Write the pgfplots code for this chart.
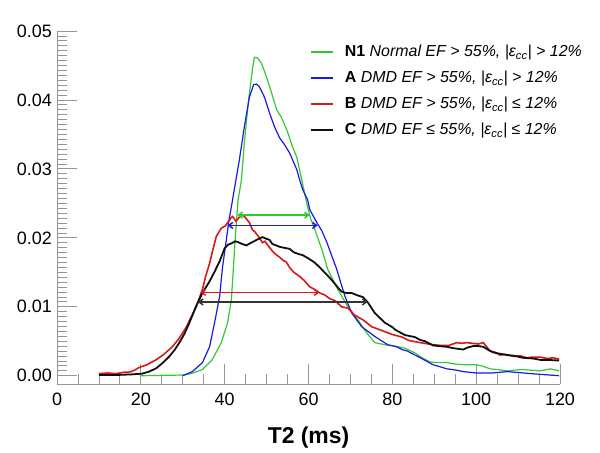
\documentclass[border=0pt]{standalone}
\usepackage{fontspec}
\setmainfont{Liberation Sans}
\usepackage{pgfplots}
\pgfplotsset{compat=1.18}
\usetikzlibrary{arrows.meta}

\definecolor{cN}{RGB}{50,200,50}
\definecolor{cA}{RGB}{25,25,225}
\definecolor{cB}{RGB}{215,25,25}
\definecolor{cC}{RGB}{15,15,15}
\definecolor{axgray}{RGB}{150,150,150}

\tikzset{fwhm/.style={line width=1.5bp, {Straight Barb[length=4bp,width=6bp]}-{Straight Barb[length=4bp,width=6bp]}}}

\begin{document}
\begin{tikzpicture}
\begin{axis}[
    scale only axis,
    width=503bp, height=353bp,
    xmin=0, xmax=120,
    ymin=-0.0012, ymax=0.05,
    axis lines*=left,
    axis line style={draw=axgray, line width=0.9bp},
    every tick/.style={draw=axgray, line width=0.8bp},
    tick align=inside,
    major tick length=20bp,
    minor tick length=10bp,
    xtick={0,20,...,120},
    minor x tick num=3,
    ytick={0,0.01,0.02,0.03,0.04,0.05},
    minor y tick num=13,
    /pgf/number format/assume math mode=true,
    yticklabel style={/pgf/number format/fixed, /pgf/number format/fixed zerofill, /pgf/number format/precision=2, xshift=-5bp},
    scaled y ticks=false,
    every tick label/.append style={font=\fontsize{18}{21}\selectfont, inner sep=0pt},
    xticklabel style={yshift=-9bp},
    xlabel={\textbf{T2 (ms)}},
    xlabel style={font=\fontsize{23}{27}\selectfont, at={(axis description cs:0.5,0)}, anchor=base, yshift=-59bp, inner sep=0pt},
    legend cell align=left,
    legend image code/.code={\draw[#1] (0bp,0bp) -- (22bp,0bp);},
    legend style={draw=none, fill=none, inner sep=0pt, at={(rel axis cs:0.503,0.965)}, anchor=north west,
        font=\fontsize{16}{19}\selectfont, row sep=10bp, column sep=9bp, nodes={inner sep=1.5bp}},
]

\addlegendimage{draw=cN, line width=2bp}
\addlegendentry{\textbf{N1} \textit{Normal EF > 55\%, |ε\textsubscript{cc}| > 12\%}}
\addlegendimage{draw=cA, line width=2bp}
\addlegendentry{\textbf{A} \textit{DMD EF > 55\%, |ε\textsubscript{cc}| > 12\%}}
\addlegendimage{draw=cB, line width=2bp}
\addlegendentry{\textbf{B} \textit{DMD EF > 55\%, |ε\textsubscript{cc}| ≤ 12\%}}
\addlegendimage{draw=cC, line width=2.2bp}
\addlegendentry{\textbf{C} \textit{DMD EF ≤ 55\%, |ε\textsubscript{cc}| ≤ 12\%}}

% N1 normal
\addplot[draw=cN, line width=1.2bp, forget plot] coordinates {
(20,0)(30,0.0001)(32,0.0003)(34.7,0.0009)(37,0.0023)(39.2,0.0048)(40.7,0.0077)(41.6,0.011)
(42.1,0.0158)(42.6,0.0207)(43.2,0.0255)(44,0.0284)(44.7,0.0338)(45.7,0.040)(46.7,0.0448)
(47.1,0.0462)(47.8,0.0461)(48.8,0.0453)(50,0.0433)(51.2,0.041)(52.4,0.0386)(53.6,0.0374)
(54.8,0.0357)(56.2,0.0332)(57.2,0.0317)(58.4,0.0284)(59.6,0.025)(60.5,0.0228)(61.5,0.0212)
(63.2,0.0183)(64.6,0.0154)(67,0.0125)(69.4,0.0100)(71.8,0.0081)(73.9,0.0062)(75.8,0.0048)
(78.2,0.0045)(80.6,0.0043)(83,0.0040)(85.4,0.0033)(87.1,0.0026)(89,0.0020)(91,0.0019)
(93,0.0019)(95,0.0017)(97,0.0016)(100,0.0016)(101.5,0.0014)(103.3,0.0010)(105,0.0009)
(107.4,0.0007)(109,0.0008)(111.2,0.0009)(113,0.0008)(115.3,0.0007)(117.7,0.0010)(119.8,0.0007)
};

% A
\addplot[draw=cA, line width=1.2bp, forget plot] coordinates {
(30,0)(32.3,0.0006)(34.7,0.0019)(36.4,0.0042)(37.6,0.0077)(38.8,0.0115)(39.5,0.0158)
(40.4,0.0197)(41,0.0225)(41.6,0.0245)(42.3,0.027)(43.5,0.0313)(44.7,0.0361)(45.9,0.0404)
(46.9,0.0422)(47.6,0.0423)(48.3,0.0419)(49.5,0.0404)(50.7,0.0381)(51.9,0.0361)(53.1,0.0345)
(54.3,0.0335)(55.5,0.0323)(57.2,0.0299)(57.9,0.0284)(58.6,0.0270)(59.8,0.0255)(60.3,0.0241)
(62,0.0222)(63.2,0.0210)(64.4,0.0193)(65.6,0.0173)(66.7,0.0155)(67.5,0.0139)(68.7,0.0115)
(70.3,0.0091)(72.7,0.0071)(75.8,0.0057)(78.9,0.0045)(81,0.0042)(82.3,0.0038)(83.5,0.0036)
(85.4,0.0030)(87.3,0.0024)(89.7,0.0016)(91.4,0.0013)(93,0.0010)(95.4,0.0008)(96.9,0.0006)
(100,0.0004)(104,0.0004)(107.4,0.0006)(111.2,0.0004)(115.3,0.0002)(119.8,0)
};

% B
\addplot[draw=cB, line width=1.6bp, forget plot] coordinates {
(10,0.0003)(12,0.0004)(14,0.0003)(16,0.0005)(17.2,0.0005)(18.5,0.0008)(19.6,0.0012)
(21.5,0.0016)(23.6,0.0023)(25.5,0.0031)(27.5,0.0042)(29,0.0053)(30.8,0.007)(32,0.0085)
(33.2,0.010)(34.7,0.0125)(35.5,0.0145)(36.4,0.0163)(37.2,0.0183)(38,0.0202)(39.2,0.0214)
(40.1,0.0217)(40.7,0.0222)(41.5,0.0229)(41.9,0.0231)(42.7,0.0224)(43.5,0.0230)(44.3,0.0233)
(45,0.0229)(45.9,0.0222)(46.6,0.0212)(47.3,0.0208)(48.3,0.0200)(49,0.0193)(49.6,0.0195)
(50.7,0.0186)(51.5,0.0180)(52.2,0.0176)(53.1,0.0172)(54,0.0167)(54.7,0.0165)(55.5,0.0157)
(56.5,0.0150)(57.9,0.0144)(59,0.0138)(60.3,0.0129)(61.5,0.0125)(62.7,0.0120)(63.9,0.0117)
(65,0.0112)(66.3,0.0109)(67.9,0.0100)(69.4,0.0098)(71,0.0088)(73,0.0081)(75.1,0.0071)
(77.3,0.0066)(79.9,0.0060)(82.3,0.0056)(84,0.0051)(86.6,0.0048)(89.7,0.0045)(91.5,0.0044)
(93.5,0.0044)(95.4,0.0048)(96.5,0.0047)(97.8,0.0048)(99,0.0047)(100.5,0.0046)(101.7,0.0048)
(103.3,0.0036)(104.5,0.0034)(105.7,0.0030)(107,0.0031)(108.9,0.0028)(110.5,0.0029)
(112,0.0026)(113.5,0.0027)(115.3,0.0027)(117,0.0025)(118.4,0.0026)(119.8,0.0024)
};

% C
\addplot[draw=cC, line width=1.8bp, forget plot] coordinates {
(10,0.0001)(14,0.0001)(18,0.0002)(20.3,0.0003)(22,0.0006)(23.7,0.0011)(25.3,0.0019)
(26.8,0.0028)(28,0.0037)(29.2,0.0048)(30.5,0.0062)(31.6,0.0077)(33.2,0.0101)(34.7,0.0120)
(35.5,0.0128)(36.4,0.0137)(37.6,0.0151)(38.8,0.0166)(40,0.0185)(40.8,0.0190)(41.6,0.0192)
(42.5,0.0195)(43.1,0.0194)(44.2,0.0191)(45.2,0.0189)(46,0.0192)(46.7,0.0194)(47.6,0.0197)
(48.3,0.0199)(49,0.0201)(49.8,0.0199)(50.7,0.0197)(51.4,0.0191)(52.3,0.0189)(53.1,0.0187)
(53.8,0.0186)(55.5,0.0184)(56.5,0.0179)(57.9,0.0176)(58.6,0.0175)(60,0.0170)(61.5,0.0164)
(62.7,0.0157)(64.6,0.0145)(65.8,0.0137)(67,0.0128)(67.9,0.0122)(69,0.0120)(70.3,0.0120)
(71.5,0.0117)(73,0.0114)(74.2,0.0106)(75.8,0.0091)(77,0.0084)(78.2,0.0077)(80.1,0.0070)
(80.6,0.0067)(83,0.0059)(85.4,0.0056)(86.6,0.0052)(87.8,0.0050)(89.7,0.0044)(91,0.0043)
(93,0.0042)(94.5,0.0040)(96.9,0.0038)(98,0.0041)(99.3,0.0043)(100.5,0.0043)(101.7,0.0042)
(103,0.0037)(104,0.0034)(105.5,0.0032)(107.4,0.0030)(109,0.0029)(111.2,0.0026)(113.6,0.0025)
(115.3,0.0023)(117,0.0023)(119.8,0.0022)
};

% FWHM arrows
\addplot[draw=cN, fwhm, forget plot] coordinates {(43,0.0233)(60.3,0.0233)};
\addplot[draw=cA, fwhm, forget plot] coordinates {(40.7,0.0218)(62.2,0.0218)};
\addplot[draw=cB, fwhm, forget plot] coordinates {(34.2,0.0121)(62.6,0.0121)};
\addplot[draw=black!80, fwhm, forget plot] coordinates {(33.6,0.0107)(74.1,0.0107)};

\end{axis}
\pgfresetboundingbox
\useasboundingbox (-57bp,-69bp) rectangle (543bp,384bp);
\end{tikzpicture}
\end{document}
